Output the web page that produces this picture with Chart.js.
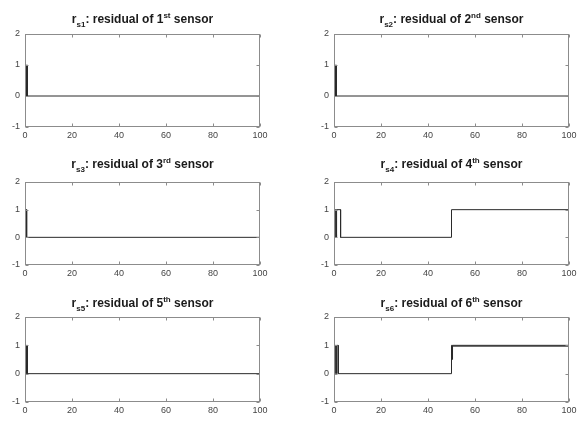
<!DOCTYPE html>
<html><head><meta charset="utf-8">
<script src="https://cdn.jsdelivr.net/npm/chart.js@4"></script>
<style>
html,body{margin:0;padding:0;background:#fff;width:582px;height:421px;overflow:hidden}
canvas{position:absolute}
</style></head><body>
<script>
// ---- data ----
const sensorSubs = ['s1','s2','s3','s4','s5','s6'];
const sensorNums = ['1','2','3','4','5','6'];
const sensorSups = ['st','nd','rd','th','th','th'];
const xTickValues = [0,20,40,60,80,100];
const yTickValues = [-1,0,1,2];

const xs1 = [0,0.3,0.3,0.5,0.5,0.7,0.7,1.0,1.0,100];
const ys1 = [0,0,0.3,0.3,0,0,1,1,0,0];
const xs2 = [0,0.3,0.3,0.5,0.5,0.7,0.7,1.0,1.0,100];
const ys2 = [0,0,0.3,0.3,0,0,1,1,0,0];
const xs3 = [0,0.3,0.3,0.7,0.7,100];
const ys3 = [0,0,1,1,0,0];
const xs4 = [0,0,0.3,0.3,0.6,0.6,0.9,0.9,1.2,1.2,2.8,2.8,50,50,100];
const ys4 = [0,1,1,0,0,1,1,0,0,1,1,0,0,1,1];
const xs5 = [0,0.3,0.3,0.5,0.5,0.7,0.7,1.0,1.0,100];
const ys5 = [0,0,0.3,0.3,0,0,1,1,0,0];
const xs6 = [0,0,0.3,0.3,0.6,0.6,0.9,0.9,1.2,1.2,1.8,1.8,50,50,50.3,50.3,50.5,50.5,100,100,50.5];
const ys6 = [0,1,1,0,0,1,1,0,0,1,1,0,0,1,1,0.5,0.5,1,1,0.97,0.97];

const seriesX = [xs1,xs2,xs3,xs4,xs5,xs6];
const seriesY = [ys1,ys2,ys3,ys4,ys5,ys6];

// ---- layout (plot rectangles: left, top, right, bottom) ----
const rects = [
  [25,34,260,127],[334,34,569,127],
  [25,182,260,265],[334,182,569,265],
  [25,317,260,402],[334,317,569,402]
];
const titleGaps = [11,11,14,14,10,10];
const PAD_TOP = 34, Y_W = 25, X_H = 16, PAD_R = 14;
const FRAME = '#8c8c8c';

const framePlugin = {
  id:'frame',
  afterDraw(chart){
    const {ctx, chartArea:a, scales} = chart;
    ctx.save();
    ctx.strokeStyle = FRAME; ctx.lineWidth = 1;
    const l = Math.round(a.left)+0.5, r = Math.round(a.right)-0.5;
    const t = Math.round(a.top)+0.5, b = Math.round(a.bottom)-0.5;
    ctx.strokeRect(l, t, r-l, b-t);
    ctx.beginPath();
    xTickValues.forEach(v=>{
      const x = Math.round(scales.x.getPixelForValue(v))+0.5;
      ctx.moveTo(x,b); ctx.lineTo(x,b-3);
      ctx.moveTo(x,t); ctx.lineTo(x,t+3);
    });
    yTickValues.forEach(v=>{
      const y = Math.round(scales.y.getPixelForValue(v))+0.5;
      ctx.moveTo(l,y); ctx.lineTo(l+3,y);
      ctx.moveTo(r,y); ctx.lineTo(r-3,y);
    });
    ctx.stroke();
    // title with sub/superscripts
    const o = chart.options.plugins.frame;
    const big = 'bold 12px "Liberation Sans", Arial, sans-serif';
    const small = 'bold 8px "Liberation Sans", Arial, sans-serif';
    const parts = [
      {t:'r', f:big, dy:0},
      {t:o.sub, f:small, dy:4},
      {t:': residual of '+o.num, f:big, dy:0},
      {t:o.sup, f:small, dy:-5},
      {t:' sensor', f:big, dy:0}
    ];
    let w = 0;
    parts.forEach(p=>{ctx.font=p.f; p.w = ctx.measureText(p.t).width; w += p.w;});
    let x = (a.left+a.right)/2 - w/2;
    const base = a.top - o.gap;
    ctx.fillStyle = '#1a1a1a'; ctx.textBaseline = 'alphabetic'; ctx.textAlign='left';
    parts.forEach(p=>{ctx.font=p.f; ctx.fillText(p.t, x, base+p.dy); x += p.w;});
    ctx.restore();
  }
};

rects.forEach((rc,i)=>{
  const [L,T,R,B] = rc;
  const cv = document.createElement('canvas');
  const W = (R-L) + Y_W + PAD_R, H = (B-T) + PAD_TOP + X_H;
  cv.width = W; cv.height = H;
  cv.style.left = (L-Y_W)+'px'; cv.style.top = (T-PAD_TOP)+'px';
  cv.style.width = W+'px'; cv.style.height = H+'px';
  document.body.appendChild(cv);
  const pts = seriesX[i].map((x,k)=>({x, y:seriesY[i][k]}));
  new Chart(cv, {
    type:'line',
    data:{datasets:[{data:pts, borderColor:'#2a2a2a', borderWidth:1, pointRadius:0, tension:0, fill:false}]},
    options:{
      responsive:false, animation:false, devicePixelRatio:1,
      layout:{padding:{top:PAD_TOP, right:PAD_R, left:0, bottom:0}},
      plugins:{legend:{display:false}, tooltip:{enabled:false},
        frame:{sub:sensorSubs[i], num:sensorNums[i], sup:sensorSups[i], gap:titleGaps[i]}},
      scales:{
        x:{type:'linear', min:0, max:100,
           afterBuildTicks(s){ s.ticks = xTickValues.map(v=>({value:v})); },
           afterFit(s){ s.height = X_H; },
           grid:{display:false, drawTicks:false}, border:{display:false},
           ticks:{padding:3, color:'#444', maxRotation:0, autoSkip:false,
                  font:{family:'"Liberation Sans", Arial, sans-serif', size:9}}},
        y:{type:'linear', min:-1, max:2,
           afterBuildTicks(s){ s.ticks = yTickValues.map(v=>({value:v})); },
           afterFit(s){ s.width = Y_W; },
           grid:{display:false, drawTicks:false}, border:{display:false},
           ticks:{padding:5, color:'#444',
                  font:{family:'"Liberation Sans", Arial, sans-serif', size:9}}}
      }
    },
    plugins:[framePlugin]
  });
});
</script>
</body></html>
